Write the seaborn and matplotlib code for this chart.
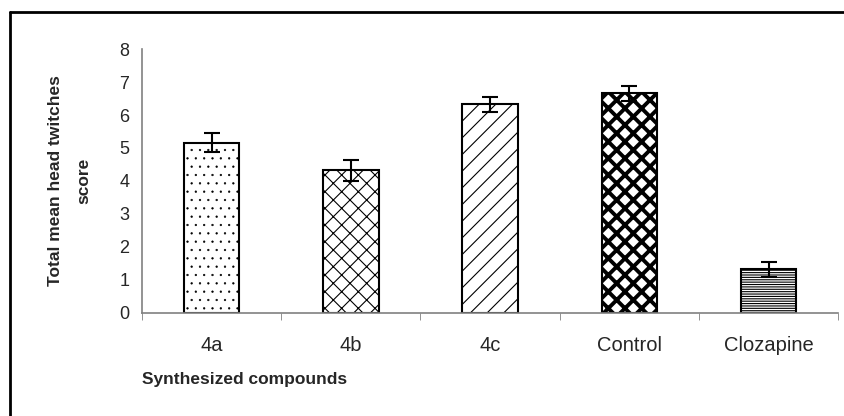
import numpy as np
import seaborn as sns
import matplotlib.pyplot as plt
from matplotlib.lines import Line2D

compounds = ["4a", "4b", "4c", "Control", "Clozapine"]
mean_score = [5.16, 4.33, 6.33, 6.66, 1.32]
sem_score = [0.28, 0.32, 0.23, 0.22, 0.23]
patterns = ["..", "xx", "//", "xx", "-------"]

sns.set_style("white")
plt.rcParams['font.family'] = ['Liberation Sans', 'DejaVu Sans']
plt.rcParams['hatch.linewidth'] = 0.8

fig = plt.figure(figsize=(8.45, 4.16), dpi=100)
ax = fig.add_axes([0.168, 0.248, 0.824, 0.634])

sns.barplot(x=compounds, y=mean_score, color="white", width=0.4,
            edgecolor="black", linewidth=1.5, ax=ax)

for bar, pat in zip(ax.patches, patterns):
    bar.set_hatch(pat)
    bar.set_edgecolor("black")

# finer dots for 4a, heavy lattice for the control bar
if hasattr(ax.patches[0], "set_hatch_linewidth"):
    ax.patches[0].set_hatch_linewidth(0.4)
    ax.patches[3].set_hatch_linewidth(2.8)

ax.errorbar(np.arange(len(compounds)), mean_score, yerr=sem_score,
            fmt="none", ecolor="black", elinewidth=1.5, capsize=6, capthick=1.5)

ax.set_xlim(-0.5, len(compounds) - 0.5)
ax.set_ylim(0, 8)
ax.set_yticks(range(0, 9))
ax.set_xticks(np.arange(-0.5, len(compounds)), minor=True)
ax.tick_params(axis="x", which="major", length=0, pad=17, labelsize=14.5)
ax.tick_params(axis="x", which="minor", length=5, color="#808080", direction="out")
ax.tick_params(axis="y", length=5, color="#808080", direction="out", labelsize=13, pad=4)
ax.xaxis.set_tick_params(which="minor", bottom=True)

for side in ["top", "right"]:
    ax.spines[side].set_visible(False)
for side in ["left", "bottom"]:
    ax.spines[side].set_color("#808080")
    ax.spines[side].set_linewidth(1.2)

ax.set_xlabel("")
ax.set_ylabel("Total mean head twitches\nscore", fontsize=12.5, fontweight="bold",
              labelpad=20, linespacing=2.1)
fig.text(0.289, 0.087, "Synthesized compounds", fontsize=12.5, fontweight="bold",
         ha="center", va="center")

# outer frame (only top and left edges visible)
fig.add_artist(Line2D([0.012, 1.0], [0.971, 0.971], color="black", lw=2,
                      transform=fig.transFigure))
fig.add_artist(Line2D([0.012, 0.012], [0.0, 0.971], color="black", lw=2,
                      transform=fig.transFigure))

fig.savefig("out.png", dpi=100)
